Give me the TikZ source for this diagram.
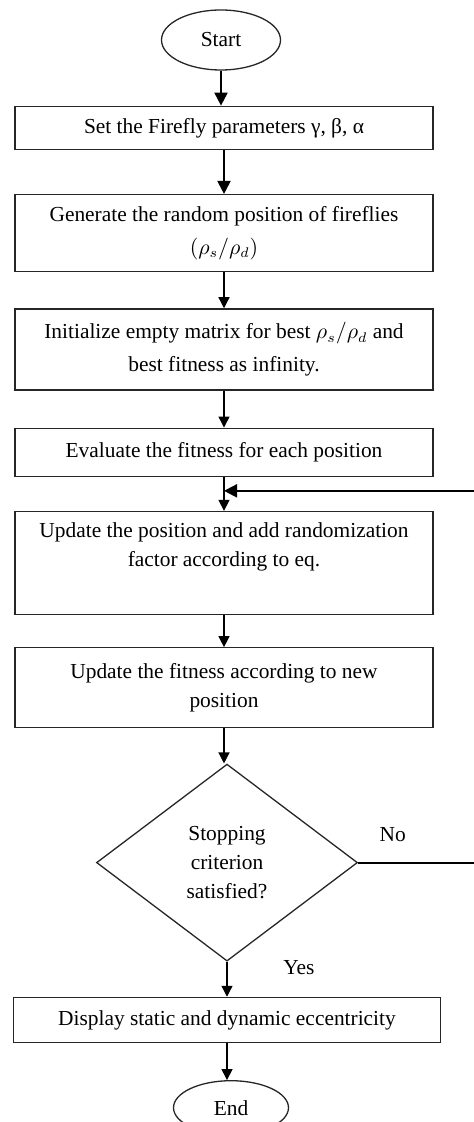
\documentclass[tikz,border=0pt]{standalone}
\usepackage{fontspec}
\setmainfont{Liberation Serif}
\usepackage{amsmath}
\usepackage{tikz}
\usetikzlibrary{positioning}
\usetikzlibrary{shapes.geometric,arrows.meta}

\begin{document}
\begin{tikzpicture}[
    font = \fontsize{10.7}{14.5}\selectfont,
    process/.style  = {rectangle, draw=black!85, line width=0.65pt, minimum width=209pt, align=center, inner sep=0pt},
    terminal/.style = {ellipse, draw=black!85, line width=0.65pt, inner sep=0pt},
    decision/.style = {diamond, draw=black!85, line width=0.65pt, minimum width=130.5pt, minimum height=98.5pt, align=center, inner sep=0pt},
    flow/.style     = {line width=0.65pt, -{Triangle[length=5.5pt,width=5.5pt]}},
    boldflow/.style = {line width=1pt, -{Triangle[length=6.5pt,width=6.5pt]}},
    tag/.style      = {inner sep=0pt}
]

    \useasboundingbox (0,0) rectangle (236.5pt,-561pt);

    %Nodes
    \node [terminal, minimum width=59.5pt, minimum height=30pt] (Start) at (110.5pt,-20pt) {Start};

    \node [process, minimum height=21.5pt, below = +17.5pt of Start, xshift=1.5pt] (SetParams) {Set the Firefly parameters γ, β, α};

    \node [process, minimum height=38.5pt, below = +22.0pt of SetParams, font=\fontsize{10.7}{16.5}\selectfont] (RandPos) {Generate the random position of fireflies\\ $(\rho_s/\rho_d)$};

    \node [process, minimum height=40.5pt, below = +18.0pt of RandPos, font=\fontsize{10.7}{16.5}\selectfont] (InitMatrix) {Initialize empty matrix for best $\rho_s/\rho_d$ and\\ best fitness as infinity.};

    \node [process, minimum height=24.0pt, below = +18.5pt of InitMatrix] (EvalFit) {Evaluate the fitness for each position};

    \node [process, minimum height=51.5pt, below = +17.0pt of EvalFit] (UpdatePos) {Update the position and add randomization\\ factor according to eq.\hspace*{21pt}\\ \strut};

    \node [process, minimum height=40.0pt, below = +16.0pt of UpdatePos] (UpdateFit) {Update the fitness according to new\\ position};

    \node [decision, below = +17.5pt of UpdateFit, xshift=1.5pt] (Stopping) {Stopping\\ criterion\\ satisfied?};

    \node [process, minimum width=213.5pt, minimum height=22.5pt, below = +17.5pt of Stopping] (Display) {Display static and dynamic eccentricity};

    \node [terminal, minimum width=57.5pt, minimum height=27pt, below = +18.5pt of Display, xshift=2pt] (End) {End};

    %FOR THE LOOP BACK
    \coordinate [right = +59.0pt of Stopping.east] (FarRight);
    \coordinate [below = +7.0pt of EvalFit.south] (LoopIn);

    %Arrows
    \draw [boldflow] (Start.south) -- (Start.south |- SetParams.north);
    \draw [boldflow] (SetParams.south) -- (SetParams.south |- RandPos.north);
    \draw [flow] (RandPos.south) -- (RandPos.south |- InitMatrix.north);
    \draw [flow] (InitMatrix.south) -- (InitMatrix.south |- EvalFit.north);
    \draw [flow] (EvalFit.south) -- (EvalFit.south |- UpdatePos.north);
    \draw [flow] (UpdatePos.south) -- (UpdatePos.south |- UpdateFit.north);
    \draw [flow] (UpdateFit.south) -- (UpdateFit.south |- Stopping.north);
    \draw [flow] (Stopping.south) -- (Stopping.south |- Display.north);
    \draw [flow] (Display.south) -- (Display.south |- End.north);

    \draw [boldflow] (Stopping.east) -- (FarRight) |- (LoopIn);

    %-------------------------------------------
    %Labels

    \node [tag, above right = +10.0pt and +10.5pt of Stopping.east] (NoLabel) {No};

    \node [tag, below right = -1.0pt and +28.0pt of Stopping.south] (YesLabel) {Yes};

\end{tikzpicture}
\end{document}
